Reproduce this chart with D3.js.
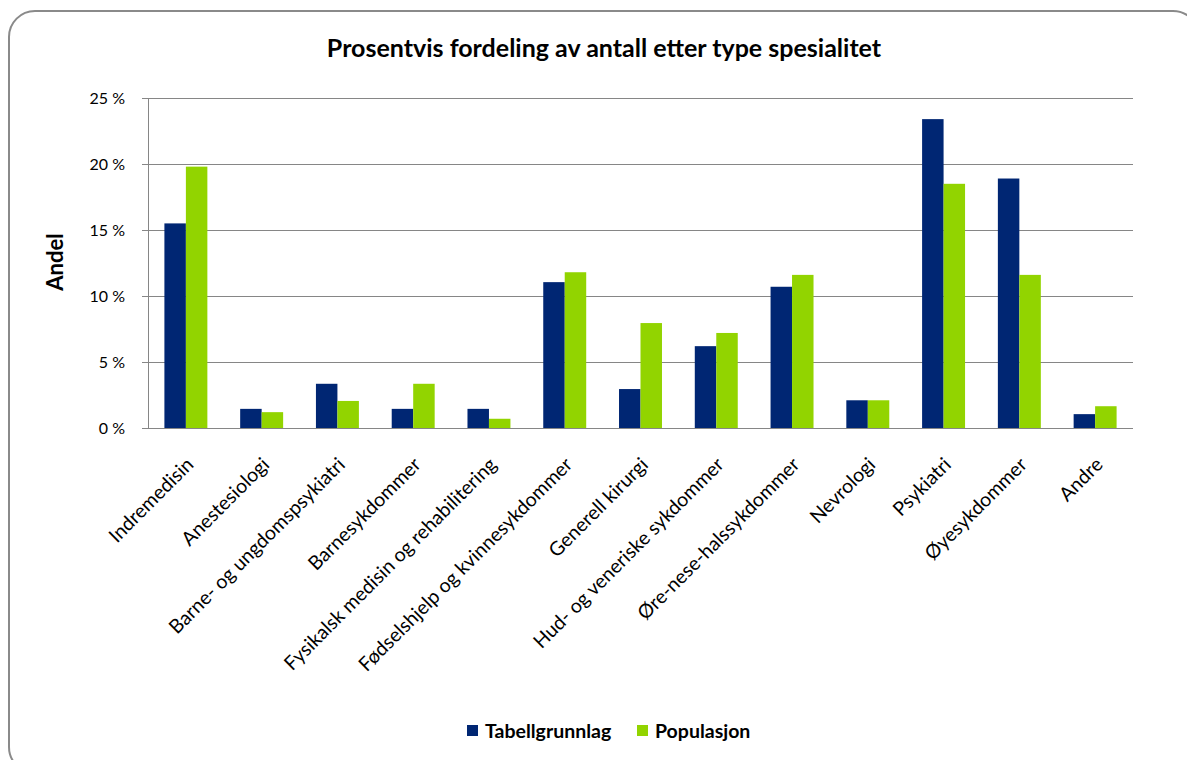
<!DOCTYPE html>
<html><head><meta charset="utf-8">
<script src="https://cdn.jsdelivr.net/npm/d3@7"></script>
<style>body{margin:0;background:#fff}svg{display:block}text{font-family:Lato,"Open Sans",sans-serif;fill:#000}</style>
</head><body>
<script>
const categories = ["Indremedisin","Anestesiologi","Barne- og ungdomspsykiatri","Barnesykdommer","Fysikalsk medisin og rehabilitering","Fødselshjelp og kvinnesykdommer","Generell kirurgi","Hud- og veneriske sykdommer","Øre-nese-halssykdommer","Nevrologi","Psykiatri","Øyesykdommer","Andre"];
const seriesNames = ["Tabellgrunnlag","Populasjon"];
const tabellgrunnlag = [15.5,1.45,3.35,1.45,1.45,11.05,2.95,6.2,10.7,2.1,23.4,18.9,1.05];
const populasjon = [19.8,1.2,2.05,3.35,0.7,11.8,7.95,7.2,11.6,2.1,18.5,11.6,1.65];
const yTicks = [0,5,10,15,20,25];
const colors = ["#002673","#92D400"];
const title = "Prosentvis fordeling av antall etter type spesialitet";
const yTitle = "Andel";

const W=1187,H=760;
const svg=d3.select("body").append("svg").attr("width",W).attr("height",H);
svg.append("rect").attr("x",9).attr("y",11).attr("width",1190).attr("height",762).attr("rx",26)
  .attr("fill","#fff").attr("stroke","#8a8a8a").attr("stroke-width",2);

const m={l:148,r:1133,t:98,b:428};
const x=d3.scaleBand().domain(categories).range([m.l,m.r]).paddingInner(0.433).paddingOuter(0.2165);
const xs=d3.scaleBand().domain(seriesNames).range([0,x.bandwidth()]);
const y=d3.scaleLinear().domain([0,25]).range([m.b,m.t]);

// gridlines
svg.append("g").selectAll("line").data(yTicks).join("line")
  .attr("x1",m.l-6).attr("x2",m.r).attr("y1",d=>Math.round(y(d))+0.5).attr("y2",d=>Math.round(y(d))+0.5)
  .attr("stroke","#868686").attr("stroke-width",1.2);
svg.append("line").attr("x1",m.l+0.5).attr("x2",m.l+0.5).attr("y1",m.t).attr("y2",m.b).attr("stroke","#868686");

// tick labels
svg.append("g").selectAll("text").data(yTicks).join("text")
  .attr("x",m.l-23).attr("y",d=>y(d)).attr("dy","0.35em").attr("text-anchor","end")
  .attr("font-size",16).text(d=>d+" %");

// bars
const data=categories.map((c,i)=>({c,vals:[tabellgrunnlag[i],populasjon[i]]}));
const g=svg.append("g").selectAll("g").data(data).join("g").attr("transform",d=>`translate(${x(d.c)},0)`);
g.selectAll("rect").data(d=>d.vals.map((v,j)=>({v,s:seriesNames[j],j}))).join("rect")
  .attr("x",d=>xs(d.s)).attr("width",xs.bandwidth()).attr("y",d=>y(d.v)).attr("height",d=>y(0)-y(d.v))
  .attr("fill",d=>colors[d.j]);

// x labels
svg.append("g").selectAll("text").data(categories).join("text")
  .attr("transform",d=>`translate(${x(d)+x.bandwidth()/2+4},461) rotate(-45)`)
  .attr("text-anchor","end").attr("dy","0.35em").attr("font-size",19.5).text(d=>d);

// titles
svg.append("text").attr("x",604).attr("y",57).attr("text-anchor","middle").attr("font-size",25).attr("font-weight","bold").text(title);
svg.append("text").attr("transform","translate(55,262) rotate(-90)").attr("text-anchor","middle").attr("dy","0.35em")
  .attr("font-size",22).attr("font-weight","bold").text(yTitle);

// legend
const legX=[467,637];
const lg=svg.append("g").selectAll("g").data(seriesNames).join("g").attr("transform",(d,i)=>`translate(${legX[i]},725)`);
lg.append("rect").attr("width",11).attr("height",11).attr("fill",(d,i)=>colors[i]);
lg.append("text").attr("x",18).attr("y",6).attr("dy","0.35em").attr("font-size",19.5).attr("font-weight","bold").text(d=>d);
</script>
</body></html>
